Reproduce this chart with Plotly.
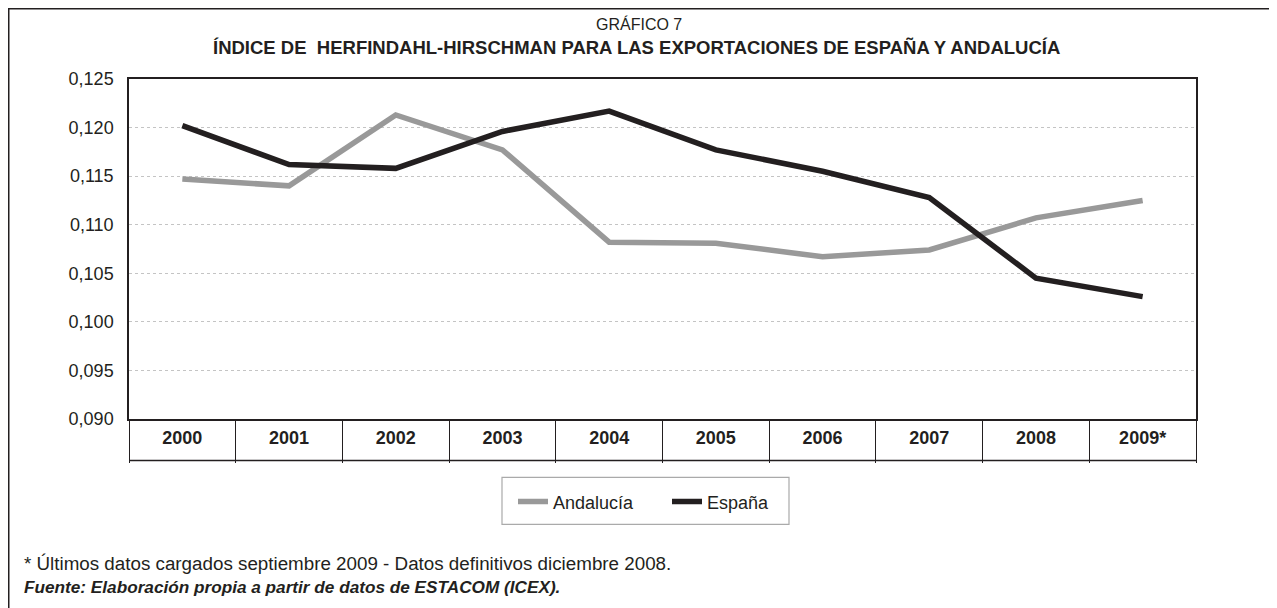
import plotly.graph_objects as go

years = ["2000", "2001", "2002", "2003", "2004", "2005", "2006", "2007", "2008", "2009*"]
andalucia = [0.1147, 0.1140, 0.1213, 0.1177, 0.1082, 0.1081, 0.1067, 0.1074, 0.1107, 0.1125]
espana = [0.1202, 0.1162, 0.1158, 0.1196, 0.1217, 0.1177, 0.1155, 0.1128, 0.1045, 0.1026]
y_ticks = [0.090, 0.095, 0.100, 0.105, 0.110, 0.115, 0.120, 0.125]

# figure pixel geometry (page is offset by 8px body margin)
W, H = 1269, 600
L, R, T, B = 121, 1188, 71, 411.5
PW, PH = R - L, B - T


def px(x):
    return (x - L) / PW


def py(y):
    return (B - y) / PH


FONT = "Liberation Sans, Arial, sans-serif"
INK = "#231f20"

fig = go.Figure()
fig.add_trace(go.Scatter(x=years, y=andalucia, name="Andalucía", mode="lines",
                         line=dict(color="#999999", width=5.5)))
fig.add_trace(go.Scatter(x=years, y=espana, name="España", mode="lines",
                         line=dict(color=INK, width=5.5)))

shapes = [
    # outer frame
    dict(type="rect", xref="paper", yref="paper", x0=px(0.75), x1=px(1268), y0=py(640), y1=py(0.75),
         line=dict(color=INK, width=1.5), layer="below"),
    # table bottom line
    dict(type="line", xref="paper", yref="paper", x0=0, x1=1, y0=py(453), y1=py(453),
         line=dict(color=INK, width=1.5)),
    # legend box
    dict(type="rect", xref="paper", yref="paper", x0=px(494), x1=px(781), y0=py(517), y1=py(470),
         line=dict(color="#aaaaaa", width=1.2), layer="below"),
]

annotations = [
    dict(text="GRÁFICO 7", xref="paper", yref="paper", x=px(631), y=py(16), xanchor="center",
         yanchor="middle", showarrow=False, font=dict(family=FONT, size=16, color=INK)),
    dict(text="<b>ÍNDICE DE  HERFINDAHL-HIRSCHMAN PARA LAS EXPORTACIONES DE ESPAÑA Y ANDALUCÍA</b>",
         xref="paper", yref="paper", x=px(628), y=py(39), xanchor="center", yanchor="middle",
         showarrow=False, font=dict(family=FONT, size=18.5, color=INK)),
    dict(text="* Últimos datos cargados septiembre 2009 - Datos definitivos diciembre 2008.",
         xref="paper", yref="paper", x=px(14), y=py(556), xanchor="left", yanchor="middle",
         showarrow=False, font=dict(family=FONT, size=18.8, color=INK)),
    dict(text="<b><i>Fuente: Elaboración propia a partir de datos de ESTACOM (ICEX).</i></b>",
         xref="paper", yref="paper", x=px(14), y=py(580), xanchor="left", yanchor="middle",
         showarrow=False, font=dict(family=FONT, size=17.2, color=INK)),
]

fig.update_layout(
    width=W, height=H,
    margin=dict(l=L, r=W - R, t=T, b=H - B),
    paper_bgcolor="white", plot_bgcolor="white",
    separators=",.",
    showlegend=True,
    legend=dict(orientation="h", x=px(505), xanchor="left", y=py(476), yanchor="top",
                borderwidth=0, bgcolor="rgba(0,0,0,0)",
                font=dict(family=FONT, size=18, color=INK),
                entrywidth=109),
    shapes=shapes,
    annotations=annotations,
    font=dict(family=FONT, color=INK),
)

fig.update_xaxes(
    type="category", range=[-0.5, 9.5],
    showline=True, linecolor=INK, linewidth=1.5, mirror=True,
    showgrid=False,
    ticks="outside", tickson="boundaries", ticklen=42, tickcolor=INK, tickwidth=1.2,
    ticklabelstandoff=2,
    tickfont=dict(family=FONT, size=18, color=INK, weight="bold"),
)
fig.update_yaxes(
    range=[0.090, 0.125], tickvals=y_ticks, tickformat=".3f",
    showline=True, linecolor=INK, linewidth=1.5, mirror=True,
    showgrid=True, gridcolor="#c4c4c4", griddash="dot", gridwidth=1,
    zeroline=False,
    ticks="", ticklabelstandoff=10,
    tickfont=dict(family=FONT, size=18, color=INK),
)

fig.write_html("out.html")
